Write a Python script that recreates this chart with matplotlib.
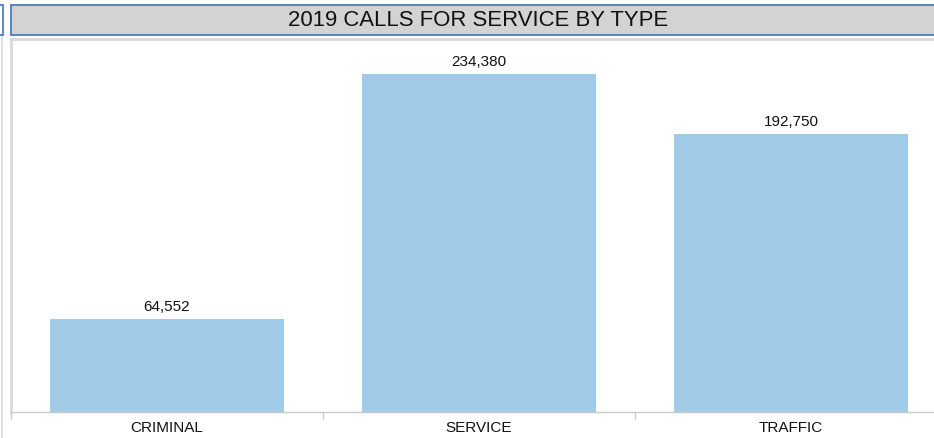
import matplotlib
matplotlib.use('Agg')
import matplotlib.pyplot as plt
from matplotlib.patches import Rectangle

plt.rcParams['font.family'] = ['Liberation Sans', 'DejaVu Sans']

categories = ['CRIMINAL', 'SERVICE', 'TRAFFIC']
calls = [64552, 234380, 192750]
title = '2019 CALLS FOR SERVICE BY TYPE'

W, H = 934, 439
fig = plt.figure(figsize=(W / 100, H / 100), dpi=100)

def fx(px):
    return px / W

def fy(py):
    return 1 - py / H

# title banner (runs off the right edge)
fig.patches.append(Rectangle((fx(11), fy(36)), fx(980) - fx(11), fy(6) - fy(36),
                             transform=fig.transFigure, facecolor='#d3d3d3',
                             edgecolor='#4a7ebb', lw=1.3, zorder=0))
# neighbouring panel fragment at the left
fig.patches.append(Rectangle((fx(-20), fy(36)), fx(23), fy(6) - fy(36),
                             transform=fig.transFigure, facecolor='white',
                             edgecolor='#4a7ebb', lw=1.3, zorder=0))
fig.lines.append(plt.Line2D([fx(2), fx(2)], [0, fy(38)], transform=fig.transFigure,
                            color='#dcdcdc', lw=1.2))
fig.text(fx(478), fy(21), title, ha='center', va='center', fontsize=15.9, color='#111111')

ax = fig.add_axes([fx(11), fy(413), fx(947) - fx(11), fy(40) - fy(413)])
x = range(len(categories))
ax.bar(x, calls, width=0.75, color='#a0cbe8')
ax.set_xlim(-0.5, 2.5)
ax.set_ylim(0, 258650)

for xi, v in zip(x, calls):
    ax.annotate(f'{v:,}', (xi, v), xytext=(0, 4), textcoords='offset points',
                ha='center', va='bottom', fontsize=11, color='#111111')

ax.set_xticks(list(x))
ax.set_xticklabels(categories, fontsize=11, color='#111111')
ax.tick_params(axis='x', which='major', length=0, pad=6)
ax.set_xticks([-0.5, 0.5, 1.5, 2.5], minor=True)
ax.tick_params(axis='x', which='minor', length=5, color='#c8c8c8', width=1)
ax.set_yticks([])

ax.spines['right'].set_visible(False)
ax.spines['top'].set_color('#d9d9d9')
ax.spines['top'].set_linewidth(2)
ax.spines['left'].set_color('#d9d9d9')
ax.spines['left'].set_linewidth(2)
ax.spines['bottom'].set_color('#c8c8c8')
ax.spines['bottom'].set_linewidth(1)

fig.savefig('out.png', dpi=100)
